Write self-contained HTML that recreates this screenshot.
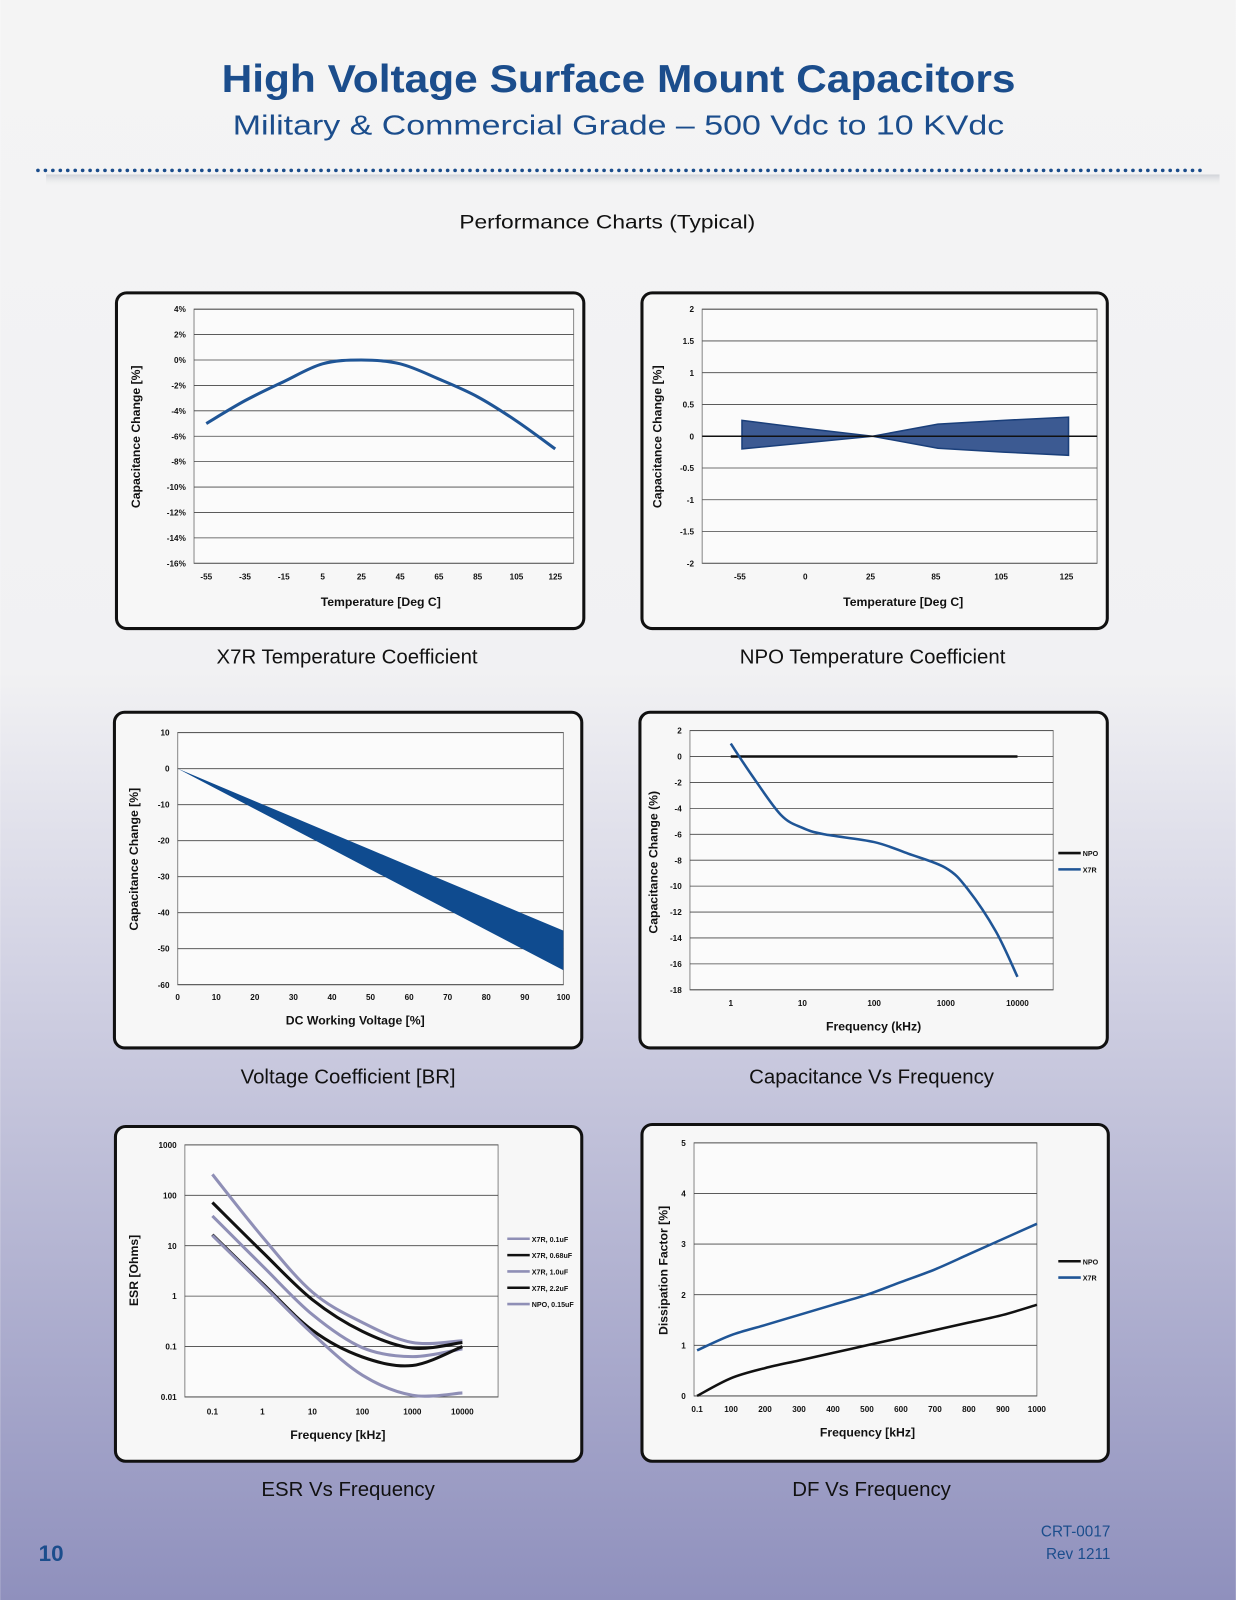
<!DOCTYPE html>
<html><head><meta charset="utf-8"><style>
html,body{margin:0;padding:0;width:1236px;height:1600px;overflow:hidden}
body{font-family:"Liberation Sans",sans-serif}
</style></head><body>
<svg id="pg" width="1236" height="1600" viewBox="0 0 1211 1568" xmlns="http://www.w3.org/2000/svg">
<defs>
<linearGradient id="bg" x1="0" y1="0" x2="0" y2="1">
<stop offset="0" stop-color="#f4f4f4"/><stop offset="0.42" stop-color="#f1f1f3"/><stop offset="0.6" stop-color="#d3d3e4"/><stop offset="1" stop-color="#8f90bd"/>
</linearGradient>
<linearGradient id="sh" x1="0" y1="0" x2="0" y2="1"><stop offset="0" stop-color="#cfd2d8"/><stop offset="1" stop-color="#f4f4f4" stop-opacity="0"/></linearGradient>
</defs>
<rect x="0" y="0" width="1211" height="1568" fill="url(#bg)"/>
<text x="606" y="90" text-anchor="middle" font-size="38" font-weight="bold" fill="#1b4d8c" textLength="778" lengthAdjust="spacingAndGlyphs">High Voltage Surface Mount Capacitors</text>
<text x="606" y="132" text-anchor="middle" font-size="27" fill="#1b4d8c" textLength="756" lengthAdjust="spacingAndGlyphs">Military &amp; Commercial Grade – 500 Vdc to 10 KVdc</text>
<rect x="45" y="171" width="1150" height="12" fill="url(#sh)"/>
<line x1="37" y1="167" x2="1176" y2="167" stroke="#1b4d8c" stroke-width="3.5" stroke-linecap="round" stroke-dasharray="0.1 7.2"/>
<text x="595" y="224" text-anchor="middle" font-size="19" fill="#111" textLength="290" lengthAdjust="spacingAndGlyphs">Performance Charts (Typical)</text>
<text x="50" y="1530" text-anchor="middle" font-size="22" font-weight="bold" fill="#1b4d8c">10</text>
<text x="1088" y="1506" text-anchor="end" font-size="15" fill="#1b4d8c">CRT-0017</text>
<text x="1088" y="1528" text-anchor="end" font-size="15" fill="#1b4d8c">Rev 1211</text>
</svg>
<script>
// ---- data ----
const x7rTempCats = [-55,-35,-15,5,25,45,65,85,105,125];
const x7rTempVals = [-5,-3.2,-1.7,-0.3,0,-0.3,-1.5,-2.9,-4.8,-7];
const x7rTempTicks = [4,2,0,-2,-4,-6,-8,-10,-12,-14,-16];
const npoTempCats = [-55,0,25,85,105,125];
const npoUpper = [0.25,0.12,0,0.19,0.25,0.3];
const npoLower = [-0.2,-0.1,0,-0.19,-0.25,-0.3];
const npoTicks = [2,1.5,1,0.5,0,-0.5,-1,-1.5,-2];
const vcCats = [0,10,20,30,40,50,60,70,80,90,100];
const vcUpper = [0,-4.5,-9,-13.5,-18,-22.5,-27,-31.5,-36,-40.5,-45];
const vcLower = [0,-5.6,-11.2,-16.8,-22.4,-28,-33.6,-39.2,-44.8,-50.4,-56];
const vcTicks = [10,0,-10,-20,-30,-40,-50,-60];
const cfFreq = [1,2,5,10,20,100,300,1000,2000,5000,10000];
const cfX7R = [1,-1.5,-4.5,-5.5,-6,-6.6,-7.5,-8.6,-10.2,-13.5,-17];
const cfNPO = [0,0,0,0,0,0,0,0,0,0,0];
const cfTicks = [2,0,-2,-4,-6,-8,-10,-12,-14,-16,-18];
const cfXTicks = [1,10,100,1000,10000];
const esrFreq = [0.1,1,10,100,1000,10000];
const esrX7R01 = [260,15,1.2,0.3,0.12,0.13];
const esrX7R068 = [72,7.5,0.85,0.2,0.093,0.12];
const esrX7R1 = [39,4,0.43,0.095,0.063,0.09];
const esrX7R22 = [16.5,1.8,0.21,0.062,0.042,0.1];
const esrNPO = [16,1.7,0.18,0.027,0.0108,0.012];
const esrTicks = [1000,100,10,1,0.1,0.01];
const dfFreq = [0,100,200,300,400,500,600,700,800,900,1000];
const dfNPO = [0,0.35,0.55,0.7,0.85,1.0,1.15,1.3,1.45,1.6,1.8];
const dfX7R = [0.9,1.2,1.4,1.6,1.8,2.0,2.25,2.5,2.8,3.1,3.4];
const dfTicks = [0,1,2,3,4,5];
const dfXLabels = ['0.1','100','200','300','400','500','600','700','800','900','1000'];

const NS='http://www.w3.org/2000/svg';
const svg=document.getElementById('pg');
function mk(tag,a,p){const e=document.createElementNS(NS,tag);for(const k in a)e.setAttribute(k,a[k]);(p||svg).appendChild(e);return e;}
function tx(x,y,s,size,anchor,p,extra){const e=mk('text',Object.assign({x:x,y:y,'font-size':size,'text-anchor':anchor||'middle','font-weight':'bold',fill:'#111'},extra||{}),p);e.textContent=s;return e;}
function smooth(pts){let d='M'+pts[0][0]+','+pts[0][1];for(let i=0;i<pts.length-1;i++){const p0=pts[i-1]||pts[i],p1=pts[i],p2=pts[i+1],p3=pts[i+2]||p2;const c1=[p1[0]+(p2[0]-p0[0])/6,p1[1]+(p2[1]-p0[1])/6],c2=[p2[0]-(p3[0]-p1[0])/6,p2[1]-(p3[1]-p1[1])/6];d+=' C'+c1+' '+c2+' '+p2;}return d;}
function panel(name,x,y,w,h){const g=mk('g',{});
 const r=mk('rect',{x:x,y:y,width:w,height:h,rx:10,fill:'#f7f7f7',stroke:'#111','stroke-width':3},g);return g;}
function caption(s,x,y){const e=mk('text',{x:x,y:y,'font-size':20,'text-anchor':'middle',fill:'#111'});e.textContent=s;}
function plotBox(g,x0,y0,x1,y1){const r=mk('rect',{x:x0,y:y0,width:x1-x0,height:y1-y0,fill:'#fbfbfb',stroke:'#888','stroke-width':1},g);}
function gridY(g,ticks,ys,x0,x1,fmt){ticks.forEach(t=>{const y=ys(t);const l=mk('line',{x1:x0,y1:y,x2:x1,y2:y,stroke:'#444','stroke-width':0.8},g);
 const e=tx(x0-8,y+3,fmt?fmt(t):String(t),8,'end',g);});}
function yTitle(g,s,x,y){const e=tx(x,y,s,12,'middle',g,{transform:'rotate(-90 '+x+' '+y+')'});}
function xTitle(g,s,x,y){const e=tx(x,y,s,12,'middle',g);}
function xLab(g,s,x,y){const e=tx(x,y,s,8,'middle',g);}
function legend(g,items,x,y,dy){items.forEach((it,i)=>{const l=mk('line',{x1:x,y1:y+i*dy,x2:x+22,y2:y+i*dy,stroke:it[1],'stroke-width':2.5},g);
 const t=tx(x+24,y+i*dy+3,it[0],7,'start',g);});}
const BLUE='#1f5596', LAV='#8f8fb6';

(function(){const g=panel('x7r-temp-chart',114,287,458,329);
 const x0=190,x1=562,y0=303,y1=552;plotBox(g,x0,y0,x1,y1);
 const ys=v=>y0+(4-v)/20*(y1-y0);const xs=i=>202+i*(544-202)/(x7rTempCats.length-1);
 gridY(g,x7rTempTicks,ys,x0,x1,t=>t+'%');
 x7rTempCats.forEach((c,i)=>xLab(g,String(c),xs(i),568));
 const p=mk('path',{d:smooth(x7rTempVals.map((v,i)=>[xs(i),ys(v)])),fill:'none',stroke:BLUE,'stroke-width':3},g);
 
 yTitle(g,'Capacitance Change [%]',137,428);xTitle(g,'Temperature [Deg C]',373,594);
 caption('X7R Temperature Coefficient',340,650);})();

(function(){const g=panel('npo-temp-chart',629,287,456,329);
 const x0=688,x1=1075,y0=303,y1=552;plotBox(g,x0,y0,x1,y1);
 const ys=v=>y0+(2-v)/4*(y1-y0);const xs=i=>727+i*(1047-727)/(npoTempCats.length-1);
 gridY(g,npoTicks,ys,x0,x1);
 npoTempCats.forEach((c,i)=>xLab(g,String(c),xs(i)-2,568));
 const pts=npoUpper.map((v,i)=>[xs(i),ys(v)]).concat(npoLower.map((v,i)=>[xs(i),ys(v)]).reverse());
 const p=mk('polygon',{points:pts.map(q=>q.join(',')).join(' '),fill:'#3c5a92',stroke:'#1a3f7a','stroke-width':1.5},g);
 
 const z=mk('line',{x1:x0,y1:ys(0),x2:x1,y2:ys(0),stroke:'#111','stroke-width':1.5},g);
 yTitle(g,'Capacitance Change [%]',648,428);xTitle(g,'Temperature [Deg C]',885,594);
 caption('NPO Temperature Coefficient',855,650);})();

(function(){const g=panel('voltage-coefficient-chart',112,698,458,329);
 const x0=174,x1=552,y0=718,y1=965;plotBox(g,x0,y0,x1,y1);
 const ys=v=>y0+(10-v)/70*(y1-y0);const xs=v=>x0+v/100*(x1-x0);
 gridY(g,vcTicks,ys,x0,x1);
 vcCats.forEach(c=>xLab(g,String(c),xs(c),980));
 const pts=vcUpper.map((v,i)=>[xs(vcCats[i]),ys(v)]).concat(vcLower.map((v,i)=>[xs(vcCats[i]),ys(v)]).reverse());
 const p=mk('polygon',{points:pts.map(q=>q.join(',')).join(' '),fill:'#0f4b8f'},g);
 
 yTitle(g,'Capacitance Change [%]',135,842);xTitle(g,'DC Working Voltage [%]',348,1004);
 caption('Voltage Coefficient [BR]',341,1062);})();

(function(){const g=panel('cap-vs-freq-chart',627,698,458,329);
 const x0=676,x1=1032,y0=716,y1=970;plotBox(g,x0,y0,x1,y1);
 const ys=v=>y0+(2-v)/20*(y1-y0);const xs=f=>716+Math.log10(f)/4*(997-716);
 gridY(g,cfTicks,ys,x0,x1);
 cfXTicks.forEach(f=>xLab(g,String(f),xs(f),986));
 let p=mk('path',{d:smooth(cfNPO.map((v,i)=>[xs(cfFreq[i]),ys(v)])),fill:'none',stroke:'#111','stroke-width':2.5},g);
 
 p=mk('path',{d:smooth(cfX7R.map((v,i)=>[xs(cfFreq[i]),ys(v)])),fill:'none',stroke:BLUE,'stroke-width':2.5},g);
 
 legend(g,[['NPO','#111'],['X7R',BLUE]],1037,836,16);
 yTitle(g,'Capacitance Change (%)',644,845);xTitle(g,'Frequency (kHz)',856,1010);
 caption('Capacitance Vs Frequency',854,1062);})();

(function(){const g=panel('esr-vs-freq-chart',113,1104,457,328);
 const x0=181,x1=488,y0=1122,y1=1369;plotBox(g,x0,y0,x1,y1);
 const ys=v=>y0+(3-Math.log10(v))/5*(y1-y0);const xs=f=>208+(Math.log10(f)+1)/5*(453-208);
 gridY(g,esrTicks,ys,x0,x1);
 esrFreq.forEach(f=>xLab(g,String(f),xs(f),1386));
 const series=[['x7r-0.1uf-line',esrX7R01,LAV],['x7r-0.68uf-line',esrX7R068,'#111'],['x7r-1.0uf-line',esrX7R1,LAV],['x7r-2.2uf-line',esrX7R22,'#111'],['npo-0.15uf-line',esrNPO,LAV]];
 series.forEach(s=>{const p=mk('path',{d:smooth(s[1].map((v,i)=>[xs(esrFreq[i]),ys(v)])),fill:'none',stroke:s[2],'stroke-width':3},g);
  });
 legend(g,[['X7R, 0.1uF',LAV],['X7R, 0.68uF','#111'],['X7R, 1.0uF',LAV],['X7R, 2.2uF','#111'],['NPO, 0.15uF',LAV]],497,1214,16);
 yTitle(g,'ESR [Ohms]',135,1245);xTitle(g,'Frequency [kHz]',331,1410);
 caption('ESR Vs Frequency',341,1466);})();

(function(){const g=panel('df-vs-freq-chart',629,1102,457,330);
 const x0=680,x1=1016,y0=1120,y1=1368;plotBox(g,x0,y0,x1,y1);
 const ys=v=>y1-v/5*(y1-y0);const xs=v=>683+v/1000*(1016-683);
 gridY(g,dfTicks,ys,x0,x1);
 dfXLabels.forEach((s,i)=>xLab(g,s,xs(dfFreq[i]),1384));
 let p=mk('path',{d:smooth(dfNPO.map((v,i)=>[xs(dfFreq[i]),ys(v)])),fill:'none',stroke:'#111','stroke-width':2.5},g);
 
 p=mk('path',{d:smooth(dfX7R.map((v,i)=>[xs(dfFreq[i]),ys(v)])),fill:'none',stroke:BLUE,'stroke-width':2.5},g);
 
 legend(g,[['NPO','#111'],['X7R',BLUE]],1037,1236,16);
 yTitle(g,'Dissipation Factor [%]',654,1245);xTitle(g,'Frequency [kHz]',850,1408);
 caption('DF Vs Frequency',854,1466);})();
</script>
</body></html>
